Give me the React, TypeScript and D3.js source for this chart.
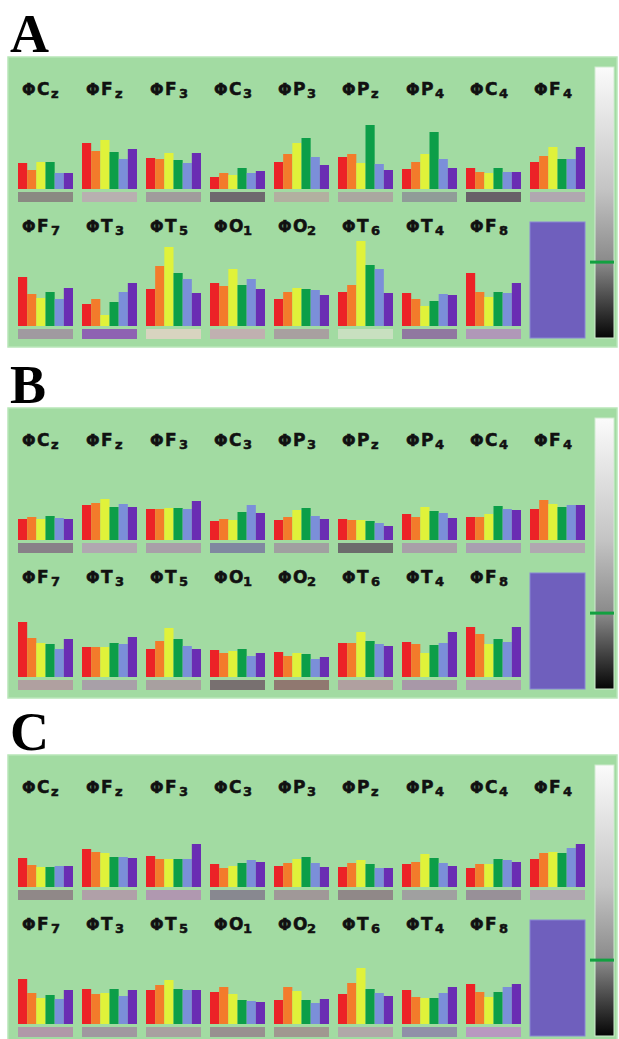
import { useEffect, useRef } from "react";
import * as d3 from "d3";

// electrode labels, two rows per panel
const topSites = ["Cz", "Fz", "F3", "C3", "P3", "Pz", "P4", "C4", "F4"];
const bottomSites = ["F7", "T3", "T5", "O1", "O2", "T6", "T4", "F8"];
const bands = ["b1", "b2", "b3", "b4", "b5", "b6"];
const panelNames = ["A", "B", "C"];

// bar heights (six bands per electrode)
const aTop = [
  [26, 19, 27, 27, 16, 16], [46, 38, 49, 37, 30, 40], [31, 30, 36, 29, 26, 36],
  [12, 16, 14, 21, 16, 18], [27, 35, 46, 51, 32, 24], [32, 35, 26, 64, 25, 19],
  [20, 27, 35, 57, 30, 21], [21, 17, 16, 21, 17, 17], [27, 33, 42, 30, 30, 42],
];
const aBottom = [
  [49, 32, 28, 34, 27, 38], [22, 27, 11, 24, 34, 43], [37, 60, 79, 53, 47, 33],
  [43, 40, 57, 41, 47, 37], [27, 34, 38, 37, 36, 31], [34, 41, 85, 61, 57, 33],
  [33, 27, 20, 25, 32, 31], [53, 34, 29, 34, 33, 43],
];
const bTop = [
  [21, 23, 21, 24, 22, 21], [35, 37, 41, 33, 36, 33], [31, 31, 32, 32, 31, 39],
  [19, 21, 20, 28, 35, 27], [20, 23, 30, 32, 24, 21], [21, 20, 20, 19, 17, 14],
  [26, 23, 33, 29, 27, 22], [23, 23, 26, 34, 31, 30], [31, 40, 36, 33, 35, 35],
];
const bBottom = [
  [55, 39, 34, 33, 28, 38], [30, 30, 30, 34, 33, 40], [28, 36, 49, 38, 31, 28],
  [27, 24, 26, 28, 21, 24], [25, 21, 24, 23, 18, 20], [34, 34, 45, 36, 33, 31],
  [35, 33, 24, 32, 34, 45], [50, 43, 33, 38, 35, 50],
];
const cTop = [
  [29, 22, 20, 20, 21, 21], [38, 35, 34, 30, 30, 29], [31, 28, 28, 28, 28, 43],
  [23, 19, 21, 24, 27, 25], [21, 24, 28, 30, 24, 20], [20, 24, 27, 23, 19, 19],
  [23, 25, 33, 29, 24, 21], [19, 23, 23, 28, 27, 25], [28, 34, 35, 34, 39, 43],
];
const cBottom = [
  [45, 31, 26, 29, 25, 34], [35, 30, 31, 35, 28, 34], [34, 39, 44, 35, 34, 34],
  [32, 37, 30, 24, 23, 22], [24, 37, 33, 24, 21, 25], [30, 41, 56, 35, 31, 28],
  [34, 27, 26, 26, 31, 37], [40, 32, 27, 32, 37, 40],
];

// tone of the strip under each electrode
const aTopStrip = ["#8a8a82", "#b8b0b0", "#a09c9c", "#6e686e", "#b2b0a0", "#aaa8a0", "#909c98", "#686068", "#b0a8b0"];
const aBottomStrip = ["#a09aa0", "#8e62b2", "#d8d4c0", "#c0b0b0", "#a8a0a0", "#c8e0c0", "#9078a0", "#b098b8"];
const bTopStrip = ["#888088", "#b0a8b0", "#a8a0a8", "#8088a0", "#a0a0a0", "#6c6c6c", "#a8a0a8", "#a8a0b0", "#b0a8b0"];
const bBottomStrip = ["#b0a0a0", "#a8a0a8", "#a8a0a0", "#787070", "#907870", "#b0a0a0", "#a898a8", "#b0a0b0"];
const cTopStrip = ["#908888", "#b0a0a8", "#b098b0", "#888890", "#a09898", "#908888", "#a0a0a0", "#989098", "#b0a8b0"];
const cBottomStrip = ["#b098a8", "#a098a0", "#a8a0a0", "#989090", "#a09890", "#b0a8a8", "#9090a8", "#b898c0"];

// colour bar marker position (fraction from the top)
const markerLevel = [0.72, 0.72, 0.72];

const panels = [
  { top: aTop, bottom: aBottom, topStrip: aTopStrip, bottomStrip: aBottomStrip },
  { top: bTop, bottom: bBottom, topStrip: bTopStrip, bottomStrip: bBottomStrip },
  { top: cTop, bottom: cBottom, topStrip: cTopStrip, bottomStrip: cBottomStrip },
];

export default function App() {
  const ref = useRef<SVGSVGElement>(null);

  useEffect(() => {
    const width = 619;
    const height = 1039;
    const svg = d3.select(ref.current);
    svg.selectAll("*").remove();
    svg.attr("width", width).attr("height", height);

    const bandColor = d3.scaleOrdinal<string, string>()
      .domain(bands)
      .range(["#ec2227", "#f37b2b", "#e0f23a", "#0c9e48", "#7b8fd9", "#6a2db3"]);

    const panelTops = [57, 408, 755];
    const panelH = 290;
    const colW = 55;
    const col = d3.scaleLinear().domain([0, 1]).range([18, 82]);

    const defs = svg.append("defs");
    const grad = defs.append("linearGradient")
      .attr("id", "cbar").attr("x1", 0).attr("y1", 0).attr("x2", 0).attr("y2", 1);
    [[0, "#fbfbfb"], [0.45, "#c4c4c4"], [0.72, "#8a8a8a"], [1, "#050505"]].forEach(([o, c]) =>
      grad.append("stop").attr("offset", o as number).attr("stop-color", c as string));

    panels.forEach((p, pi) => {
      const top = panelTops[pi];
      const g = svg.append("g").attr("transform", `translate(0,${top})`);

      svg.append("text")
        .attr("x", 10).attr("y", top - 5)
        .attr("font-family", "Liberation Serif, serif")
        .attr("font-weight", "bold")
        .attr("font-size", 54)
        .text(panelNames[pi]);

      g.append("rect")
        .attr("x", 8).attr("y", 0).attr("width", 609).attr("height", panelH)
        .attr("fill", "#a2dba2").attr("stroke", "#b8e6b8").attr("stroke-width", 1.5);

      const rows = [
        { sites: topSites, vals: p.top, strip: p.topStrip, base: 132, labelY: 38 },
        { sites: bottomSites, vals: p.bottom, strip: p.bottomStrip, base: 269, labelY: 175 },
      ];

      rows.forEach((r) => {
        const y = d3.scaleLinear().domain([0, 100]).range([r.base, r.base - 100]);
        r.sites.forEach((site, i) => {
          const x0 = col(i);
          const x = d3.scaleBand().domain(bands).range([x0, x0 + colW]).padding(0);
          const cell = g.append("g");

          const label = cell.append("text")
            .attr("y", r.labelY)
            .attr("font-family", "DejaVu Sans, sans-serif")
            .attr("font-weight", "bold")
            .attr("fill", "#111")
            .attr("stroke", "#111")
            .attr("stroke-width", 0.5);
          label.append("tspan").attr("x", x0 + 4).attr("font-size", 16).text("Φ");
          label.append("tspan").attr("x", x0 + 19).attr("font-size", 17).text(site[0]);
          label.append("tspan").attr("x", x0 + 33).attr("dy", 3).attr("font-size", 13).text(site.slice(1));

          cell.selectAll("rect.bar")
            .data(r.vals[i])
            .join("rect")
            .attr("class", "bar")
            .attr("x", (_, k) => x(bands[k])!)
            .attr("y", (d) => y(d))
            .attr("width", x.bandwidth())
            .attr("height", (d) => y(0) - y(d))
            .attr("fill", (_, k) => bandColor(bands[k]));

          cell.append("rect")
            .attr("x", x0).attr("y", r.base + 3)
            .attr("width", colW).attr("height", 10)
            .attr("fill", r.strip[i]);
        });
      });

      // purple square in the last slot
      g.append("rect")
        .attr("x", col(8)).attr("y", 165).attr("width", colW).attr("height", 116)
        .attr("fill", "#6f5fbd").attr("stroke", "#8a86d6").attr("stroke-width", 1);

      // colour bar
      const cb = d3.scaleLinear().domain([0, 1]).range([10, 281]);
      g.append("rect")
        .attr("x", 595).attr("y", cb(0)).attr("width", 19).attr("height", cb(1) - cb(0))
        .attr("fill", "url(#cbar)").attr("stroke", "#d0ecd0").attr("stroke-width", 1);
      g.append("rect")
        .attr("x", 590).attr("y", cb(markerLevel[pi]) - 1.5).attr("width", 24).attr("height", 3)
        .attr("fill", "#12a040");
    });
  }, []);

  return <svg ref={ref} style={{ position: "absolute", left: 0, top: 0 }}></svg>;
}
